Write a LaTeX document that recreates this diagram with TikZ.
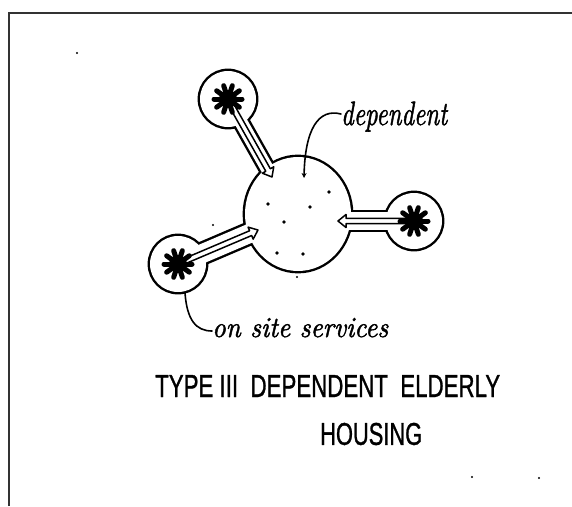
\documentclass[tikz,border=0pt]{standalone}
\usepackage{fontspec}
\usetikzlibrary{arrows.meta,calc}
\newfontfamily\letterfont{Liberation Sans}[FakeBold=1.2]
\newfontfamily\handfont{lmroman10-italic}[Extension=.otf, FakeBold=1.6]

\tikzset{
  rim/.style={line width=4.8pt},
  hollow/.style={draw, fill=white, line width=1.5pt, line join=round},
  leader/.style={line width=1.6pt, line cap=round},
  hub/.pic={
    \fill (0,0) circle[radius=9pt];
    \foreach \a in {0,36,...,324}
      \draw[line width=5pt, line cap=round] (\a:7pt) -- (\a:14pt);
  },
}

% open arrow from #1 to #2 (double outline with a triangular head)
\newcommand{\hollowarrow}[2]{%
  \draw[hollow] let \p1=($(#2)-(#1)$), \n1={atan2(\y1,\x1)}, \n2={veclen(\x1,\y1)} in
    [shift={(#1)}, rotate=\n1]
    (0,-2.6) -- (\n2-8,-2.6) -- (\n2-8,-6.5) -- (\n2,0) -- (\n2-8,6.5) -- (\n2-8,2.6) -- (0,2.6) -- cycle;}

\begin{document}
\begin{tikzpicture}[x=1pt,y=-1pt]
  \useasboundingbox (0,0) rectangle (572,506);
  \fill[white] (0,0) rectangle (572,506);
  \draw[line width=1.6pt, black!80] (9,506) -- (9,13) -- (572,13); % sheet edge

  \coordinate (hall) at (298,214);
  \coordinate (podA) at (228,99);
  \coordinate (podB) at (414,221);
  \coordinate (podC) at (178,264);
  \coordinate (tipA) at (272,177);
  \coordinate (tipB) at (338,221);
  \coordinate (tipC) at (258,230);
  \coordinate (endA) at (281,193);
  \coordinate (endB) at (322,221);
  \coordinate (endC) at (274,223);

  \begin{scope}[rim] % black rims first
    \draw (hall) ellipse[x radius=53pt, y radius=57pt];
    \foreach \p in {podA,podB,podC}
      \draw (\p) circle[radius=28pt];
    \foreach \p/\q/\w in {podA/endA/13, podB/endB/18, podC/endC/19}
      \draw[line width=\w pt+4.8pt] (\p) -- (\q);
  \end{scope}
  \begin{scope} % then the white insides over them
    \fill[white] (hall) ellipse[x radius=53pt, y radius=57pt];
    \foreach \p in {podA,podB,podC}
      \fill[white] (\p) circle[radius=28pt];
    \foreach \p/\q/\w in {podA/endA/13, podB/endB/18, podC/endC/19}
      \draw[white, line width=\w pt] (\p) -- (\q);
  \end{scope}

  % services feeding the hall
  \hollowarrow{podA}{tipA}
  \hollowarrow{podB}{tipB}
  \hollowarrow{podC}{tipC}
  \foreach \p in {podA,podB,podC}
    \pic at (\p) {hub};

  % residents
  \foreach \d in {(268,204),(310,207),(329,192),(284,222),(277,253),(303,254)}
    \fill \d circle[radius=1.8pt];
  \foreach \d in {(77,53),(213,225),(297,277),(472,477),(539,478)}
    \fill \d circle[radius=1.1pt];

  % labels
  \node[anchor=base west, inner sep=0] (depLabel) at (341,125) {\resizebox*{106pt}{30pt}{\handfont dependent}};
  \node[anchor=base west, inner sep=0] (siteLabel) at (212,337) {\resizebox{176pt}{19pt}{\handfont on site services}};
  \coordinate (spot) at (304,178);
  \coordinate (rimC) at (185,293);
  \draw[leader, -{Stealth[length=5pt,width=5pt]}] ([yshift=11pt]depLabel.base west) .. controls (318,108) and (305,130) .. (spot);
  \draw[leader] (rimC) .. controls (187,320) and (196,331) .. ([yshift=6pt]siteLabel.base west);

  \node[anchor=west, inner sep=0] (title) at (155,386) {\resizebox{345pt}{22pt}{\letterfont TYPE III\ \ DEPENDENT\ \ ELDERLY}};
  \node[anchor=west, inner sep=0] (subtitle) at (320,434) {\resizebox{102pt}{22pt}{\letterfont HOUSING}};
\end{tikzpicture}
\end{document}
